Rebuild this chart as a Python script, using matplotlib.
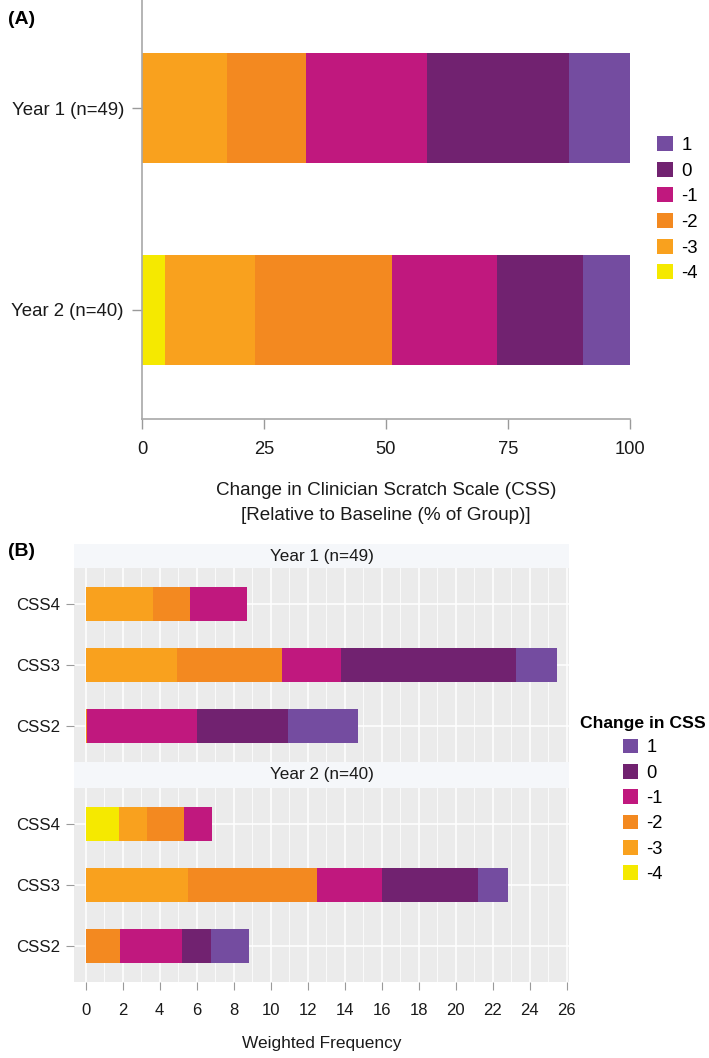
import matplotlib
matplotlib.use('Agg')
import matplotlib.pyplot as plt
from matplotlib.patches import Patch
from matplotlib.ticker import MultipleLocator
import numpy as np

plt.rcParams['font.family'] = ['Liberation Sans', 'DejaVu Sans']

# ---------------- data ----------------
levels = ['-4', '-3', '-2', '-1', '0', '1']
colors = ['#F5E900', '#F9A11E', '#F38920', '#C0187E', '#712270', '#744CA0']

groups_a = ['Year 2 (n=40)', 'Year 1 (n=49)']
pct_year1 = [0.0, 17.5, 16.1, 24.9, 29.1, 12.4]
pct_year2 = [4.8, 18.3, 28.2, 21.5, 17.6, 9.6]
xticks_a = [0, 25, 50, 75, 100]

css_items = ['CSS2', 'CSS3', 'CSS4']
y1_css2 = [0.0, 0.0, 0.07, 5.97, 4.87, 3.82]
y1_css3 = [0.0, 4.92, 5.69, 3.17, 9.45, 2.22]
y1_css4 = [0.0, 3.62, 2.02, 3.09, 0.0, 0.0]
y2_css2 = [0.0, 0.0, 1.84, 3.35, 1.58, 2.07]
y2_css3 = [0.0, 5.53, 6.98, 3.48, 5.19, 1.65]
y2_css4 = [1.82, 1.47, 2.02, 1.51, 0.0, 0.0]
strip_titles = ['Year 1 (n=49)', 'Year 2 (n=40)']
xticks_b = list(range(0, 27, 2))

# ---------------- layout helpers ----------------
W, H = 709, 1058
fig = plt.figure(figsize=(W / 100, H / 100), dpi=100)


def fx(px):
    return px / W


def fy(py):
    return 1 - py / H


def box(l, t, r, b):
    return [fx(l), fy(b), fx(r) - fx(l), fy(t) - fy(b)]


TXT = '#1a1a1a'
TICKC = '#9a9a9a'

# ---------------- Panel A ----------------
axA = fig.add_axes(box(142, 0, 630, 419))
data_a = np.array([pct_year2, pct_year1])
ypos = np.arange(len(groups_a))
left = np.zeros(len(groups_a))
for j, lev in enumerate(levels):
    axA.barh(ypos, data_a[:, j], left=left, height=0.545, color=colors[j],
             linewidth=0)
    left += data_a[:, j]
axA.set_xlim(0, 100)
axA.set_ylim(-0.54, 1.535)
axA.set_yticks(ypos)
axA.set_yticklabels(groups_a)
axA.set_xticks(xticks_a)
for s in ['top', 'right']:
    axA.spines[s].set_visible(False)
for s in ['left', 'bottom']:
    axA.spines[s].set_color('#A8A8A8')
    axA.spines[s].set_linewidth(1.2)
axA.tick_params(axis='y', length=7, color=TICKC, width=1, labelsize=13.4,
                labelcolor=TXT, pad=6)
axA.tick_params(axis='x', length=7, color=TICKC, width=1, labelsize=13.2,
                labelcolor=TXT, pad=9)
axA.set_xlabel('Change in Clinician Scratch Scale (CSS)\n[Relative to Baseline (% of Group)]',
               fontsize=13.6, color=TXT, labelpad=17, linespacing=1.6)

handles = [Patch(facecolor=colors[j], edgecolor='none', label=levels[j])
           for j in range(len(levels) - 1, -1, -1)]
fig.legend(handles=handles, loc='upper left',
           bbox_to_anchor=(fx(657), fy(136)), frameon=False,
           fontsize=13.4, handlelength=0.85, handleheight=0.85,
           handletextpad=0.45, labelspacing=0.42, borderpad=0, borderaxespad=0)

fig.text(fx(8), fy(19), '(A)', fontsize=14, fontweight='bold', va='center',
         ha='left', color='black')

# ---------------- Panel B ----------------
panel_data = [np.array([y1_css2, y1_css3, y1_css4]),
              np.array([y2_css2, y2_css3, y2_css4])]
panel_px = [(568, 762), (788, 982)]
strip_px = [(544, 568), (762, 788)]
ypos_b = np.arange(1, len(css_items) + 1)

for i in range(2):
    top, bot = panel_px[i]
    ax = fig.add_axes(box(74, top, 569, bot))
    ax.set_facecolor('#EBEBEB')
    d = panel_data[i]
    left = np.zeros(len(css_items))
    for j, lev in enumerate(levels):
        ax.barh(ypos_b, d[:, j], left=left, height=0.56, color=colors[j],
                linewidth=0)
        left += d[:, j]
    ax.set_xlim(-0.63, 26.12)
    ax.set_ylim(0.4, 3.6)
    ax.set_yticks(ypos_b)
    ax.set_yticklabels(css_items)
    ax.set_xticks(xticks_b)
    ax.xaxis.set_minor_locator(MultipleLocator(1))
    ax.set_axisbelow(True)
    ax.grid(which='major', color='white', linewidth=1.1)
    ax.grid(which='minor', axis='x', color='white', linewidth=0.55)
    for s in ax.spines.values():
        s.set_visible(False)
    ax.tick_params(axis='y', length=5.8, color=TICKC, width=0.8,
                   labelsize=12.2, labelcolor=TXT, pad=4.3)
    ax.tick_params(axis='x', which='minor', length=0)
    if i == 0:
        ax.tick_params(axis='x', which='major', length=0, labelbottom=False)
    else:
        ax.tick_params(axis='x', which='major', length=5.8, color=TICKC,
                       width=0.8, labelsize=12, labelcolor=TXT, pad=9)
        ax.set_xlabel('Weighted Frequency', fontsize=12.4, color=TXT,
                      labelpad=13)

    st, sb = strip_px[i]
    sax = fig.add_axes(box(74, st, 569, sb))
    sax.set_facecolor('#F5F7FA')
    sax.set_xticks([])
    sax.set_yticks([])
    for s in sax.spines.values():
        s.set_visible(False)
    sax.text(0.5, 0.5, strip_titles[i], transform=sax.transAxes, ha='center',
             va='center', fontsize=12.3, color=TXT)

fig.text(fx(8), fy(552), '(B)', fontsize=14, fontweight='bold', va='center',
         ha='left', color='black')

handles_b = [Patch(facecolor=colors[j], edgecolor='none', label=levels[j])
             for j in range(len(levels) - 1, -1, -1)]
leg = fig.legend(handles=handles_b, loc='upper left',
                 bbox_to_anchor=(fx(580), fy(716)), frameon=False,
                 title='Change in CSS', fontsize=13.2,
                 title_fontproperties={'weight': 'bold', 'size': 12.6},
                 handlelength=0.85, handleheight=0.85, handletextpad=0.45,
                 labelspacing=0.42, borderpad=0, borderaxespad=0)

fig.savefig('out.png', dpi=100)
